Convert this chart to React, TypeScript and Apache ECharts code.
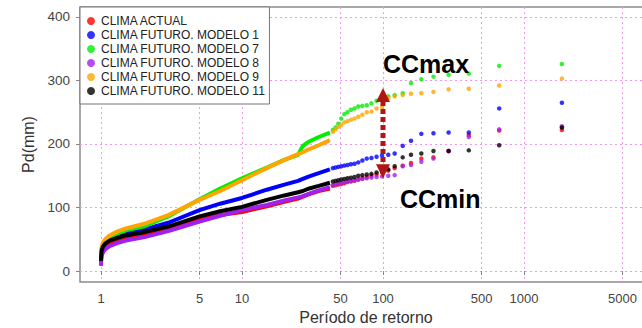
import React, { useEffect, useRef } from 'react';
import * as echarts from 'echarts';

const seriesNames = [
  'CLIMA ACTUAL',
  'CLIMA FUTURO. MODELO 1',
  'CLIMA FUTURO. MODELO 7',
  'CLIMA FUTURO. MODELO 8',
  'CLIMA FUTURO. MODELO 9',
  'CLIMA FUTURO. MODELO 11',
];
const seriesColors = ['#ff0000', '#0000ff', '#00ee00', '#a020f0', '#ffa500', '#000000'];

// dense part of the curves (return period, years)
const bodyReturnPeriods = [1, 1.003, 1.01, 1.03, 1.07, 1.15, 1.3, 1.5, 2, 3, 5, 7, 10, 15, 20, 25, 27, 30, 35, 42];
const bodyActual = [14, 22, 29, 35, 40, 44, 48, 52, 56, 65, 81, 88, 93, 102, 109, 114, 117, 121, 126, 130];
const bodyModel1 = [18, 26, 33, 40, 45, 50, 55, 59, 65, 76, 96, 106, 115, 128, 136, 142, 145, 149, 154, 160];
const bodyModel7 = [20, 28, 35, 42, 47, 53, 59, 64, 70, 86, 113, 130, 146, 163, 175, 183, 197, 204, 211, 218];
const bodyModel8 = [8, 16, 23, 29, 34, 39, 44, 48, 53, 63, 78, 87, 96, 104, 111, 116, 118, 122, 127, 132];
const bodyModel9 = [18, 28, 36, 44, 50, 56, 62, 67, 74, 88, 112, 126, 143, 162, 175, 184, 187, 192, 198, 206];
const bodyModel11 = [16, 24, 31, 38, 43, 48, 52, 56, 61, 70, 86, 94, 101, 112, 119, 124, 126, 130, 134, 139];

// sparse upper tail (largest values), return periods
const tailReturnPeriods = [1857, 667, 406, 292, 228, 187, 158, 138, 121, 109, 98.5, 90, 82.8, 76.7, 71.4, 66.8, 62.8, 59.2, 56, 53.2, 50.6, 48.2, 46.1, 44.1];
const tailActual = [222, 221, 214, 189, 179, 177, 170, 166, 162, 158, 155, 152, 150, 148, 146, 144, 142, 141, 140, 138, 137, 136, 135, 134];
const tailModel1 = [265, 256, 218, 218, 217, 216, 205, 197, 185, 183, 182, 180, 178, 177, 174, 171, 169, 168, 167, 166, 165, 164, 163, 162];
const tailModel7 = [326, 323, 311, 309, 306, 302, 296, 280, 277, 275, 270, 268, 264, 261, 260, 259, 256, 254, 250, 247, 240, 232, 226, 222];
const tailModel8 = [228, 223, 211, 189, 177, 172, 167, 165, 151, 150, 149, 148, 147, 146, 145, 144, 143, 142, 141, 140, 139, 138, 137, 135];
const tailModel9 = [303, 292, 287, 286, 282, 280, 279, 277, 275, 272, 258, 256, 251, 250, 246, 243, 240, 238, 236, 234, 230, 227, 223, 219];
const tailModel11 = [226, 198, 190, 189, 189, 185, 183, 179, 165, 160, 157, 155, 153, 152, 151, 150, 148, 147, 146, 145, 144, 143, 142, 141];

const bodyValues = [bodyActual, bodyModel1, bodyModel7, bodyModel8, bodyModel9, bodyModel11];
const tailValues = [tailActual, tailModel1, tailModel7, tailModel8, tailModel9, tailModel11];

const xTickValues = [1, 5, 10, 50, 100, 500, 1000, 5000];
const yTickValues = [0, 100, 200, 300, 400];

// CCmax / CCmin arrow (return period, tip values)
const arrowPeriod = 100;
const arrowMax = 288;
const arrowMin = 146;

const FONT = '"Liberation Sans", Arial, sans-serif';

export default function App() {
  const ref = useRef<HTMLDivElement>(null);

  useEffect(() => {
    if (!ref.current) return;
    const chart = echarts.init(ref.current, undefined, { renderer: 'svg' });

    const series: any[] = [];
    seriesNames.forEach((name, i) => {
      series.push({
        name: name + ' (curva)',
        type: 'line',
        data: bodyReturnPeriods.map((t, k) => [t, bodyValues[i][k]]),
        showSymbol: false,
        symbol: 'none',
        smooth: false,
        lineStyle: { color: seriesColors[i], width: 4 },
        itemStyle: { color: seriesColors[i] },
        z: 2 + i,
      });
      series.push({
        name,
        type: 'scatter',
        data: tailReturnPeriods.map((t, k) => [t, tailValues[i][k]]),
        symbol: 'circle',
        symbolSize: 4.5,
        itemStyle: { color: seriesColors[i] },
        z: 2 + i,
      });
    });

    const splitLineStyle = { color: '#ee99ee', width: 1, type: [2, 3] as any };

    chart.setOption({
      animation: false,
      backgroundColor: '#ffffff',
      textStyle: { fontFamily: FONT },
      grid: {
        left: 80,
        right: -10,
        top: 7,
        bottom: 46,
        outerBoundsMode: 'none',
        containLabel: false,
        show: true,
        borderColor: '#8c8c8c',
        borderWidth: 1.5,
        backgroundColor: 'transparent',
      },
      legend: {
        data: seriesNames.map((n) => ({ name: n, icon: 'circle' })),
        orient: 'vertical',
        left: 80,
        top: 7,
        itemWidth: 8,
        itemHeight: 8,
        itemGap: 0,
        padding: [7, 4, 6, 7],
        backgroundColor: '#ffffff',
        borderColor: '#777777',
        borderWidth: 1,
        textStyle: { fontSize: 12, color: '#222', fontFamily: FONT, lineHeight: 14, padding: [0, 0, 0, 1] },
        selectedMode: false,
        z: 20,
      },
      xAxis: {
        type: 'log',
        logBase: 10,
        min: 0.7098,
        max: 8088,
        name: 'Período de retorno',
        nameLocation: 'middle',
        nameGap: 26,
        nameTextStyle: { fontSize: 16, color: '#333', fontFamily: FONT },
        axisLine: { show: false },
        axisTick: { show: true, customValues: xTickValues, length: 4, lineStyle: { color: '#888' } },
        axisLabel: {
          customValues: xTickValues,
          formatter: (v: number) => String(Math.round(v)),
          fontSize: 13,
          color: '#444',
          margin: 10,
          fontFamily: FONT,
        },
        splitLine: { show: true, lineStyle: splitLineStyle },
        minorTick: { show: false },
        minorSplitLine: { show: false },
      },
      yAxis: {
        type: 'value',
        min: -17.3,
        max: 415.7,
        name: 'Pd(mm)',
        nameLocation: 'middle',
        nameGap: 44,
        nameTextStyle: { fontSize: 16, color: '#333', fontFamily: FONT },
        axisLine: { show: false },
        axisTick: { show: true, customValues: yTickValues, length: 4, lineStyle: { color: '#888' } },
        axisLabel: {
          customValues: yTickValues,
          formatter: (v: number) => String(Math.round(v)),
          fontSize: 13.5,
          color: '#444',
          margin: 10,
          fontFamily: FONT,
        },
        splitLine: { show: true, lineStyle: splitLineStyle },
      },
      series,
    });

    const topTip = chart.convertToPixel({ xAxisIndex: 0, yAxisIndex: 0 } as any, [arrowPeriod, arrowMax]) as number[];
    const botTip = chart.convertToPixel({ xAxisIndex: 0, yAxisIndex: 0 } as any, [arrowPeriod, arrowMin]) as number[];
    const ax = topTip[0];
    const headLen = 14;
    const headHalf = 7;
    const arrowColor = '#b31515';

    chart.setOption({
      graphic: [
        {
          type: 'line',
          z: 50,
          shape: { x1: ax, y1: topTip[1] + headLen - 1, x2: ax, y2: botTip[1] - headLen + 1 },
          style: { stroke: arrowColor, lineWidth: 5, lineDash: [5, 3] },
        },
        {
          type: 'polygon',
          z: 50,
          shape: { points: [[ax, topTip[1]], [ax - headHalf, topTip[1] + headLen], [ax + headHalf, topTip[1] + headLen]] },
          style: { fill: arrowColor },
        },
        {
          type: 'polygon',
          z: 50,
          shape: { points: [[ax, botTip[1]], [ax - headHalf, botTip[1] - headLen], [ax + headHalf, botTip[1] - headLen]] },
          style: { fill: arrowColor },
        },
        {
          type: 'text',
          z: 50,
          x: ax,
          y: topTip[1] - 24,
          style: {
            text: 'CCmax',
            fontSize: 25,
            fontWeight: 'bold',
            fontFamily: FONT,
            fill: '#000',
            align: 'left',
            verticalAlign: 'middle',
          },
        },
        {
          type: 'text',
          z: 50,
          x: ax + 17,
          y: botTip[1] + 21,
          style: {
            text: 'CCmin',
            fontSize: 25,
            fontWeight: 'bold',
            fontFamily: FONT,
            fill: '#000',
            align: 'left',
            verticalAlign: 'middle',
          },
        },
      ],
    });

    return () => {
      chart.dispose();
    };
  }, []);

  return (
    <div
      ref={ref}
      style={{ position: 'fixed', left: 0, top: 0, width: 642, height: 328, background: '#fff' }}
    />
  );
}
